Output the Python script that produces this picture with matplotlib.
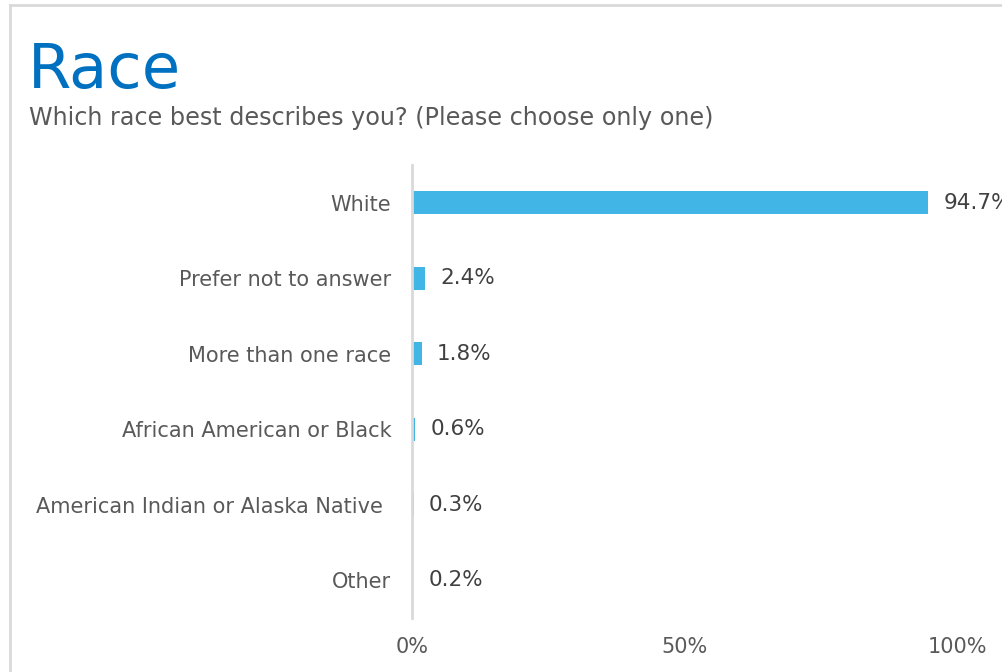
import matplotlib.pyplot as plt
import matplotlib.transforms as mtransforms
from matplotlib.lines import Line2D

categories = ['White', 'Prefer not to answer', 'More than one race',
              'African American or Black', 'American Indian or Alaska Native', 'Other']
values = [94.7, 2.4, 1.8, 0.6, 0.3, 0.2]
xticks = [0, 50, 100]
xtick_labels = ['0%', '50%', '100%']

W, H = 1002, 672
fig = plt.figure(figsize=(W / 100, H / 100), dpi=100)
fig.patch.set_facecolor('white')

# light frame around the card (left and top edges visible)
fig.add_artist(Line2D([10 / W, 10 / W], [0, 1 - 5 / H], color='#d9d9d9', lw=2))
fig.add_artist(Line2D([10 / W, 1], [1 - 5 / H, 1 - 5 / H], color='#d9d9d9', lw=2))

fig.text(28 / W, 1 - 88 / H, 'Race', fontsize=45, color='#0070c0', ha='left', va='baseline')
fig.text(29 / W, 1 - 125 / H, 'Which race best describes you? (Please choose only one)',
         fontsize=17.2, color='#595959', ha='left', va='baseline')

ax = fig.add_axes([412 / W, 1 - 618 / H, (957 - 412) / W, (618 - 165) / H])
y = list(range(len(categories)))
ax.barh(y, values, height=0.31, color='#41b6e6')
ax.set_ylim(len(categories) - 0.5, -0.5)
ax.set_xlim(0, 100)

for yi, v in zip(y, values):
    ax.annotate(f'{v}%', (v, yi), xytext=(11, 0), textcoords='offset points',
                va='center', ha='left', fontsize=15.5, color='#404040',
                annotation_clip=False)

ax.set_yticks(y)
ax.set_yticklabels(categories, fontsize=15, color='#595959')
ax.tick_params(axis='y', length=0, pad=15)
ax.set_xticks(xticks)
ax.set_xticklabels(xtick_labels, fontsize=15, color='#595959')
ax.tick_params(axis='x', length=0, pad=14)

# the long label sits a bit further left in the original
lbl = ax.get_yticklabels()[4]
lbl.set_transform(lbl.get_transform() + mtransforms.ScaledTranslation(-8 / 100, 0, fig.dpi_scale_trans))

for side in ['top', 'right', 'bottom']:
    ax.spines[side].set_visible(False)
ax.spines['left'].set_color('#d9d9d9')
ax.spines['left'].set_linewidth(2)

fig.savefig('out.png', dpi=100)
